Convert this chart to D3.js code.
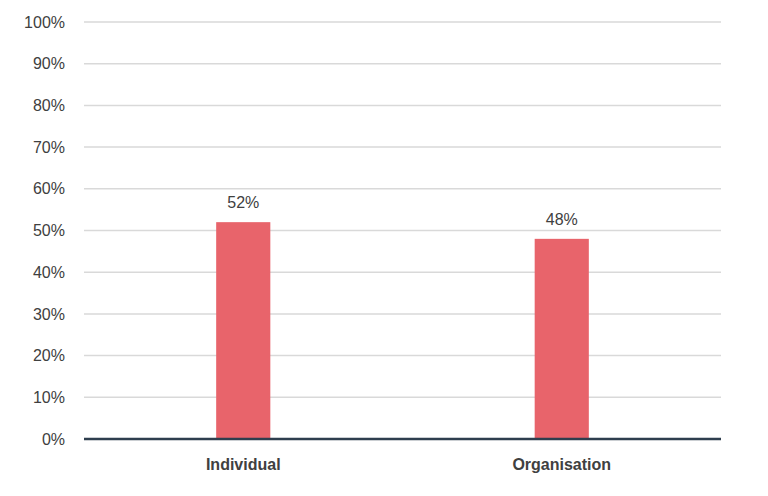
<!DOCTYPE html>
<html>
<head>
<meta charset="utf-8">
<script src="https://cdn.jsdelivr.net/npm/d3@7"></script>
<style>
body { margin: 0; background: #fff; }
text { font-family: "Liberation Sans Narrow", "Arial Narrow", "Liberation Sans", sans-serif; }
</style>
</head>
<body>
<svg id="chart" width="768" height="496"></svg>
<script>
var categories = ["Individual", "Organisation"];
var values = [52, 48];
var tickValues = [0, 10, 20, 30, 40, 50, 60, 70, 80, 90, 100];

var margin = {left: 84, right: 47, top: 22, bottom: 57};
var width = 768 - margin.left - margin.right;
var height = 496 - margin.top - margin.bottom;

var svg = d3.select("#chart")
  .append("g")
  .attr("transform", "translate(" + margin.left + "," + margin.top + ")");

var x = d3.scaleBand()
  .domain(categories)
  .range([0, width])
  .paddingInner(0.83)
  .paddingOuter(0.415);

var y = d3.scaleLinear()
  .domain([0, 100])
  .range([height, 0]);

// gridlines
svg.selectAll("line.grid")
  .data(tickValues.slice(1))
  .enter()
  .append("line")
  .attr("class", "grid")
  .attr("x1", 0).attr("x2", width)
  .attr("y1", d => y(d)).attr("y2", d => y(d))
  .attr("stroke", "#d9d9d9")
  .attr("stroke-width", 1.5);

// y tick labels
svg.selectAll("text.ytick")
  .data(tickValues)
  .enter()
  .append("text")
  .attr("class", "ytick")
  .attr("x", -19)
  .attr("y", d => y(d))
  .attr("dy", "0.35em")
  .attr("text-anchor", "end")
  .attr("font-size", 16)
  .attr("fill", "#404040")
  .text(d => d + "%");

// bars
svg.selectAll("rect.bar")
  .data(values)
  .enter()
  .append("rect")
  .attr("class", "bar")
  .attr("x", (d, i) => x(categories[i]))
  .attr("width", x.bandwidth())
  .attr("y", d => y(d))
  .attr("height", d => height - y(d))
  .attr("fill", "#e8646b");

// value labels
svg.selectAll("text.val")
  .data(values)
  .enter()
  .append("text")
  .attr("class", "val")
  .attr("x", (d, i) => x(categories[i]) + x.bandwidth() / 2)
  .attr("y", d => y(d) - 14)
  .attr("text-anchor", "middle")
  .attr("font-size", 16)
  .attr("fill", "#404040")
  .text(d => d + "%");

// baseline
svg.append("line")
  .attr("x1", 0).attr("x2", width)
  .attr("y1", height).attr("y2", height)
  .attr("stroke", "#2e3e4e")
  .attr("stroke-width", 2.5);

// category labels
svg.selectAll("text.cat")
  .data(categories)
  .enter()
  .append("text")
  .attr("class", "cat")
  .attr("x", d => x(d) + x.bandwidth() / 2)
  .attr("y", height + 31)
  .attr("text-anchor", "middle")
  .attr("font-size", 16)
  .attr("font-weight", "bold")
  .attr("fill", "#404040")
  .text(d => d);
</script>
</body>
</html>
